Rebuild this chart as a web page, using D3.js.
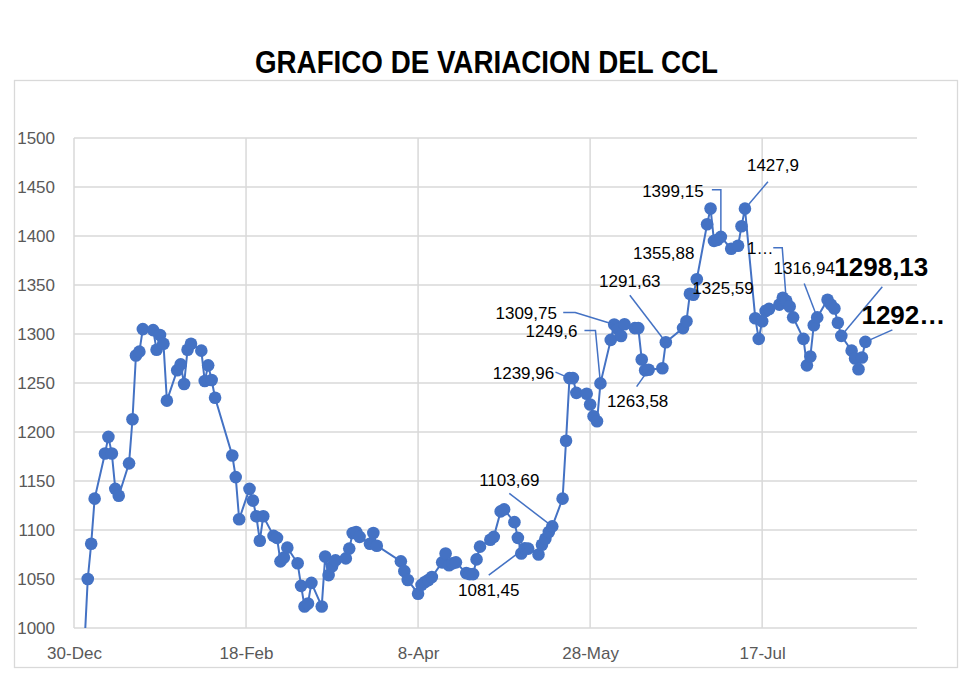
<!DOCTYPE html>
<html>
<head>
<meta charset="utf-8">
<script src="https://cdn.jsdelivr.net/npm/d3@7"></script>
<style>
  body { margin: 0; background: #fff; }
  text { font-family: "Liberation Sans", Arial, sans-serif; }
</style>
</head>
<body>
<div id="grafico"></div>
<script>
/* variacion diaria del CCL, 2024 */

const fechas = [
  "2024-01-02","2024-01-03","2024-01-04","2024-01-05","2024-01-08","2024-01-09","2024-01-10","2024-01-11","2024-01-12",
  "2024-01-15","2024-01-16","2024-01-17","2024-01-18","2024-01-19","2024-01-22","2024-01-23","2024-01-24","2024-01-25",
  "2024-01-26","2024-01-29","2024-01-30","2024-01-31",
  "2024-02-01","2024-02-02","2024-02-05","2024-02-06","2024-02-07","2024-02-08","2024-02-09","2024-02-14","2024-02-15",
  "2024-02-16","2024-02-19","2024-02-20","2024-02-21","2024-02-22","2024-02-23","2024-02-26","2024-02-27","2024-02-28",
  "2024-02-29",
  "2024-03-01","2024-03-04","2024-03-05","2024-03-06","2024-03-07","2024-03-08","2024-03-11","2024-03-12","2024-03-13",
  "2024-03-14","2024-03-15","2024-03-18","2024-03-19","2024-03-20","2024-03-21","2024-03-22","2024-03-25","2024-03-26",
  "2024-03-27",
  "2024-04-03","2024-04-04","2024-04-05","2024-04-08","2024-04-09","2024-04-10","2024-04-11","2024-04-12","2024-04-15",
  "2024-04-16","2024-04-17","2024-04-18","2024-04-19","2024-04-22","2024-04-23","2024-04-24","2024-04-25","2024-04-26",
  "2024-04-29","2024-04-30",
  "2024-05-02","2024-05-03","2024-05-06","2024-05-07","2024-05-08","2024-05-09","2024-05-10","2024-05-13","2024-05-14",
  "2024-05-15","2024-05-16","2024-05-17","2024-05-20","2024-05-21","2024-05-22","2024-05-23","2024-05-24","2024-05-27",
  "2024-05-28","2024-05-29","2024-05-30","2024-05-31",
  "2024-06-03","2024-06-04","2024-06-05","2024-06-06","2024-06-07","2024-06-10","2024-06-11","2024-06-12","2024-06-13",
  "2024-06-14","2024-06-18","2024-06-19","2024-06-24","2024-06-25","2024-06-26","2024-06-27","2024-06-28",
  "2024-07-01","2024-07-02","2024-07-03","2024-07-04","2024-07-05","2024-07-08","2024-07-10","2024-07-11","2024-07-12",
  "2024-07-15","2024-07-16","2024-07-17","2024-07-18","2024-07-19","2024-07-22","2024-07-23","2024-07-24","2024-07-25",
  "2024-07-26","2024-07-29","2024-07-30","2024-07-31",
  "2024-08-01","2024-08-02","2024-08-05","2024-08-06","2024-08-07","2024-08-08","2024-08-09","2024-08-12","2024-08-13",
  "2024-08-14","2024-08-15","2024-08-16"
]

const valores = [
  980, 1050, 1086, 1132, 1178, 1195, 1178, 1142, 1135,
  1168, 1213, 1278, 1282, 1305, 1304, 1284, 1299, 1290,
  1232, 1263, 1269, 1249,
  1284, 1290, 1283, 1252, 1268, 1253, 1235, 1176, 1154,
  1111, 1142, 1130, 1114, 1089, 1114, 1094, 1092, 1068,
  1072,
  1082, 1066, 1043, 1022, 1025, 1046, 1022, 1073, 1054,
  1063, 1069, 1071, 1081, 1097, 1098, 1093, 1086, 1097,
  1084,
  1068, 1058, 1049, 1035, 1044, 1047, 1049, 1052, 1067,
  1076, 1064, 1066, 1067, 1056, 1055, 1055, 1070, 1083,
  1090, 1093,
  1119, 1121, 1108, 1092, 1076, 1081.45, 1081, 1075, 1085,
  1091, 1098, 1103.69, 1132, 1191, 1255, 1255, 1239.96, 1239,
  1228, 1216, 1211, 1249.6,
  1294, 1309.75, 1305, 1298, 1310, 1306, 1306, 1274, 1263,
  1263.58, 1265, 1291.63, 1306, 1313, 1341, 1340, 1355.88,
  1412, 1428, 1395, 1396, 1399.15, 1387, 1390, 1410, 1427.9,
  1316, 1295, 1313, 1323.5, 1325.59, 1330, 1337, 1334, 1328,
  1317, 1295, 1268, 1277,
  1309, 1316.94, 1335, 1330, 1326, 1311.5, 1298.13, 1283, 1275,
  1264, 1276, 1292
]

/* etiquetas de datos (texto tal cual aparece) */
const etiquetasFecha = ["2024-05-17","2024-05-09","2024-05-22","2024-05-31","2024-06-04","2024-06-14","2024-06-19",
  "2024-06-28","2024-07-19","2024-07-05","2024-07-12","2024-07-24","2024-08-02","2024-08-09","2024-08-16"]
const etiquetasTexto = ["1103,69","1081,45","1239,96","1249,6","1309,75","1263,58","1291,63",
  "1355,88","1325,59","1399,15","1427,9","1…","1316,94","1298,13","1292…"]

const valoresY = [1000, 1050, 1100, 1150, 1200, 1250, 1300, 1350, 1400, 1450, 1500]
const inicioX = "2023-12-30", finX = "2024-08-31", pasoX = 50  // dias entre marcas

/* posicion de cada etiqueta respecto de su punto: centro del texto, quiebres de la linea guia */
const disposicion = [
  {dx: -43, dy: -46, guia: [[-43, -33]]},
  {dx: -36, dy: 42, guia: [[-36, 27]]},
  {dx: -46, dy: -5, guia: [[-14, -6]]},
  {dx: -49, dy: -52, guia: [[-16, -53], [-5, -53]]},
  {dx: -88, dy: -11, guia: [[-51, -12], [-39, -12]]},
  {dx: -11, dy: 31, guia: [[-12, 17]]},
  {dx: -36, dy: -61, guia: [[-36, -47]]},
  {dx: -33, dy: -26, guia: null},
  {dx: -46, dy: -21, guia: null},
  {dx: -48, dy: -46, guia: [[-9, -47], [0, -47]]},
  {dx: 28, dy: -44, guia: [[23, -27]]},
  {dx: -26, dy: -53, guia: [[-13, -53], [-4, -53]]},
  {dx: -13, dy: -49, guia: [[-13, -34]]},
  {dx: 40, dy: -69, guia: [[41, -49]], grande: true},
  {dx: 38, dy: -27, guia: [[27, -12]], grande: true}
]

const W = 980, H = 682
const m = {izq: 74, der: 917, arr: 138, aba: 628}
const azul = "#4472c4", grisGrilla = "#d9d9d9", grisTexto = "#595959"

const parse = d3.timeParse("%Y-%m-%d")
const datos = fechas.map((f, i) => ({fecha: parse(f), valor: valores[i]}))

const svg = d3.select("#grafico").append("svg")
  .attr("width", W).attr("height", H)

svg.append("rect").attr("width", W).attr("height", H).attr("fill", "#fff")

/* borde del area del grafico */
svg.append("rect")
  .attr("x", 14.5).attr("y", 80.5).attr("width", 943).attr("height", 587)
  .attr("fill", "none").attr("stroke", grisGrilla).attr("stroke-width", 1.3)

svg.append("text")
  .attr("x", 486.5).attr("y", 73)
  .attr("text-anchor", "middle")
  .attr("font-size", 32).attr("font-weight", "bold")
  .attr("textLength", 463).attr("lengthAdjust", "spacingAndGlyphs")
  .text("GRAFICO DE VARIACION DEL CCL")

const x = d3.scaleTime().domain([parse(inicioX), parse(finX)]).range([m.izq, m.der])
const y = d3.scaleLinear().domain([1000, 1500]).range([m.aba, m.arr])

const marcasX = d3.range(0, 201, pasoX).map(d => d3.timeDay.offset(parse(inicioX), d))
const fmt = d3.timeFormat("%-d-%b")

/* grilla horizontal */
svg.append("g")
  .selectAll("line").data(valoresY).join("line")
  .attr("x1", m.izq).attr("x2", m.der)
  .attr("y1", d => y(d)).attr("y2", d => y(d))
  .attr("stroke", grisGrilla).attr("stroke-width", 1.5)

/* grilla vertical */
svg.append("g")
  .selectAll("line").data(marcasX).join("line")
  .attr("x1", d => x(d)).attr("x2", d => x(d))
  .attr("y1", m.arr).attr("y2", m.aba)
  .attr("stroke", grisGrilla).attr("stroke-width", 1.5)

/* eje Y */
const ejeY = svg.append("g")
  .attr("transform", `translate(${m.izq - 19},0)`)
  .call(d3.axisLeft(y).tickValues(valoresY).tickFormat(d3.format("d")).tickSize(0).tickPadding(0))
ejeY.select(".domain").remove()
ejeY.selectAll("text")
  .attr("font-family", "'Liberation Sans', Arial, sans-serif")
  .attr("font-size", 17).attr("fill", grisTexto)

/* eje X */
const ejeX = svg.append("g")
  .attr("transform", `translate(0,${m.aba})`)
  .call(d3.axisBottom(x).tickValues(marcasX).tickFormat(fmt).tickSize(0).tickPadding(19))
ejeX.select(".domain").remove()
ejeX.selectAll("text")
  .attr("font-family", "'Liberation Sans', Arial, sans-serif")
  .attr("font-size", 17).attr("fill", grisTexto)

svg.append("clipPath").attr("id", "recorte")
  .append("rect").attr("x", m.izq).attr("y", m.arr - 10)
  .attr("width", m.der - m.izq + 10).attr("height", m.aba - m.arr + 10)

const serie = svg.append("g").attr("clip-path", "url(#recorte)")

/* lineas guia de las etiquetas (debajo de los marcadores) */
const etiquetas = etiquetasFecha.map((f, i) => {
  const p = datos.find(d => +d.fecha === +parse(f))
  return {px: x(p.fecha), py: y(p.valor), texto: etiquetasTexto[i], ...disposicion[i]}
})

svg.append("g")
  .selectAll("path").data(etiquetas.filter(d => d.guia)).join("path")
  .attr("d", d => d3.line()(d.guia.map(g => [d.px + g[0], d.py + g[1]]).concat([[d.px, d.py]])))
  .attr("fill", "none").attr("stroke", azul).attr("stroke-width", 1.5)

serie.append("path")
  .datum(datos)
  .attr("fill", "none").attr("stroke", azul).attr("stroke-width", 2)
  .attr("d", d3.line().x(d => x(d.fecha)).y(d => y(d.valor)))

serie.append("g")
  .selectAll("circle").data(datos.filter(d => d.valor >= 1000)).join("circle")
  .attr("cx", d => x(d.fecha)).attr("cy", d => y(d.valor))
  .attr("r", 6.3).attr("fill", azul)

svg.append("g")
  .selectAll("text").data(etiquetas).join("text")
  .attr("x", d => d.px + d.dx).attr("y", d => d.py + d.dy)
  .attr("dy", "0.35em").attr("text-anchor", "middle")
  .attr("font-size", d => d.grande ? 26 : 17)
  .attr("font-weight", d => d.grande ? "bold" : "normal")
  .attr("fill", "#000")
  .text(d => d.texto)
</script>
</body>
</html>
